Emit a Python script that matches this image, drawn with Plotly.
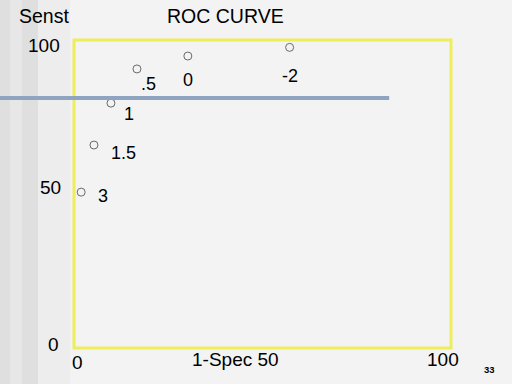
import plotly.graph_objects as go

# Data
fpr = [1.9, 5.3, 9.8, 16.7, 30.2, 57.2]          # 1-Specificity (%)
sens = [50.6, 65.9, 79.5, 90.6, 94.8, 97.6]      # Sensitivity (%)
cutoffs = ["3", "1.5", "1", ".5", "0", "-2"]
ref_sens = 81.2                                  # horizontal reference line level
ref_x_end = 83.6
x_ticks = ["0", "1-Spec 50", "100"]
y_ticks = ["0", "50", "100"]

# styling (pixel offsets for point labels)
label_dx = [22, 30, 18, 12, 0, 0]
label_dy = [-4, -8, -11, -15, -24, -29]

W, H = 512, 384
L, R, T, B = 74, 61, 40, 36
pw, ph = W - L - R, H - T - B

def px_x(p):
    return (p - L) / pw

def px_y(p):
    return (H - B - p) / ph

font = "Liberation Sans, Arial, sans-serif"

fig = go.Figure()
fig.add_trace(go.Scatter(
    x=fpr, y=sens, mode="markers",
    marker=dict(symbol="circle-open", size=8, color="#6a6a6a", line=dict(width=1)),
    cliponaxis=False, showlegend=False, hoverinfo="skip"))

shapes = []
# background bands (slide texture)
shapes.append(dict(type="rect", xref="paper", yref="paper", x0=px_x(0), x1=px_x(38),
                   y0=px_y(H), y1=px_y(0), fillcolor="#dfdfdf", line=dict(width=0), layer="below"))
shapes.append(dict(type="rect", xref="paper", yref="paper", x0=px_x(10), x1=px_x(22),
                   y0=px_y(H), y1=px_y(0), fillcolor="#e7e7e7", line=dict(width=0), layer="below"))
shapes.append(dict(type="rect", xref="paper", yref="paper", x0=px_x(38), x1=px_x(70),
                   y0=px_y(H), y1=px_y(0), fillcolor="#ededed", line=dict(width=0), layer="below"))
# yellow frame
shapes.append(dict(type="rect", xref="paper", yref="paper", x0=0, x1=1, y0=0, y1=1,
                   line=dict(color="#eeee5a", width=3), layer="below"))
# blue horizontal line
shapes.append(dict(type="line", xref="paper", yref="y", x0=px_x(0), x1=ref_x_end / 100,
                   y0=ref_sens, y1=ref_sens, line=dict(color="#8ea4c0", width=4)))

ann = []
for x, y, t, dx, dy in zip(fpr, sens, cutoffs, label_dx, label_dy):
    ann.append(dict(x=x, y=y, xref="x", yref="y", text=t, showarrow=False,
                    xshift=dx, yshift=dy, font=dict(family=font, size=18, color="#000")))

def txt(text, cx, cy, size=19, xanchor="center", bold=False):
    if bold:
        text = "<b>" + text + "</b>"
    ann.append(dict(x=px_x(cx), y=px_y(cy), xref="paper", yref="paper", text=text,
                    showarrow=False, xanchor=xanchor, yanchor="middle",
                    font=dict(family=font, size=size, color="#000")))

txt("Senst", 17, 16, 19.5, "left")
txt("ROC CURVE", 225, 16, 19.5)
txt(y_ticks[2], 62, 46, 19, "right")
txt(y_ticks[1], 63, 187, 19, "right")
txt(y_ticks[0], 61, 344, 19, "right")
txt(x_ticks[0], 77, 362, 19)
txt(x_ticks[1], 281, 359, 19, "right")
txt(x_ticks[2], 443, 359, 19)
txt("33", 489, 369, 9.5, bold=True)

fig.update_layout(
    width=W, height=H, margin=dict(l=L, r=R, t=T, b=B),
    paper_bgcolor="#f3f3f3", plot_bgcolor="rgba(0,0,0,0)",
    xaxis=dict(range=[0, 100], visible=False),
    yaxis=dict(range=[0, 100], visible=False),
    shapes=shapes, annotations=ann,
)
fig.write_html("out.html", config={"displayModeBar": False},
               post_script="document.body.style.margin='0px';document.body.style.overflow='hidden';")
